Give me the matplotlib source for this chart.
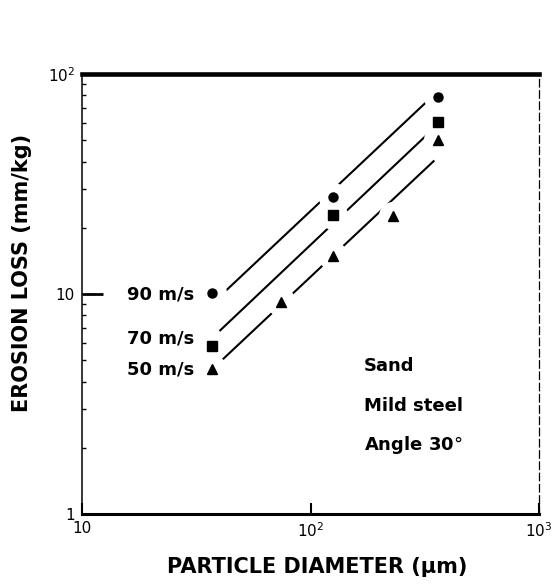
import numpy as np
import matplotlib
matplotlib.use("Agg")
import matplotlib.pyplot as plt
from matplotlib.ticker import NullLocator, LogLocator

# particle diameter (um) and erosion loss (mm/kg)
circle_x = [37, 125, 360]          # 90 m/s
circle_y = [10.1, 27.7, 78.7]
square_x = [37, 125, 360]          # 70 m/s
square_y = [5.8, 22.8, 60.6]
triangle_x = [37, 74, 125, 230, 360]   # 50 m/s
triangle_y = [4.55, 9.2, 14.9, 22.7, 50.4]

# fitted lines (end points)
line90_x = [42.4, 326]
line90_y = [10.3, 75.8]
line70_x = [40, 341]
line70_y = [6.79, 55.9]
line50_x = [40.6, 348]
line50_y = [4.96, 40.5]

speed_labels = ["90 m/s", "70 m/s", "50 m/s"]
speed_label_y = [10.0, 6.28, 4.53]
notes = ["Sand", "Mild steel", "Angle 30$\\degree$"]
notes_y = [4.72, 3.10, 2.06]

xticks = [10, 100, 1000]
xticklabels = ["10", "10$^2$", "10$^3$"]
yticks = [1, 10, 100]
yticklabels = ["1", "10", "10$^2$"]

plt.rcParams['font.family'] = ['DejaVu Sans']
plt.rcParams['mathtext.fontset'] = 'dejavusans'

fig = plt.figure(figsize=(5.53, 5.84), dpi=100)
ax = fig.add_axes([0.148, 0.12, 0.827, 0.753])
ax.set_xscale('log')
ax.set_yscale('log')
ax.set_xlim(10, 1000)
ax.set_ylim(1, 100)

# lines first, then white halos to break them round the markers
for lx, ly in [(line90_x, line90_y), (line70_x, line70_y), (line50_x, line50_y)]:
    ax.plot(lx, ly, color='black', lw=1.5, zorder=2, solid_capstyle='butt')

for xs, ys in [(circle_x, circle_y), (square_x, square_y), (triangle_x, triangle_y)]:
    ax.plot(xs, ys, 'o', ms=21, color='white', mec='none', zorder=3, clip_on=False)

ax.plot(circle_x, circle_y, 'o', ms=6.5, color='black', zorder=4)
ax.plot(square_x, square_y, 's', ms=6.5, color='black', zorder=4)
ax.plot(triangle_x, triangle_y, '^', ms=7, color='black', zorder=4)

for lab, yy in zip(speed_labels, speed_label_y):
    ax.text(31, yy, lab, ha='right', va='center', fontsize=13, fontweight='bold')
for lab, yy in zip(notes, notes_y):
    ax.text(171, yy, lab, ha='left', va='center', fontsize=13, fontweight='bold')

ax.set_xticks(xticks)
ax.set_xticklabels(xticklabels, fontsize=11)
ax.set_yticks(yticks)
ax.set_yticklabels(yticklabels, fontsize=11)
ax.xaxis.set_minor_locator(NullLocator())
ax.yaxis.set_minor_locator(LogLocator(base=10, subs=np.arange(2, 10)))
ax.yaxis.set_minor_formatter(plt.NullFormatter())

ax.tick_params(axis='y', which='major', direction='in', length=15, width=2, pad=5)
ax.tick_params(axis='y', which='minor', direction='in', length=3, width=1)
ax.tick_params(axis='x', which='major', direction='in', length=8, width=1.5, pad=5)
ax.tick_params(right=False, top=False)

ax.spines['top'].set_linewidth(3.3)
ax.spines['bottom'].set_linewidth(2.2)
ax.spines['left'].set_linewidth(1.1)
ax.spines['right'].set_linewidth(0.9)
ax.spines['right'].set_linestyle((0, (6, 3)))

fig.text(22 / 553, 1 - 273 / 584, "EROSION LOSS (mm/kg)", rotation=90,
         ha='center', va='center', fontsize=15, fontweight='bold')
fig.text(317 / 553, 1 - 567 / 584, "PARTICLE DIAMETER (μm)",
         ha='center', va='center', fontsize=15, fontweight='bold')

fig.savefig('out.png', dpi=100)
